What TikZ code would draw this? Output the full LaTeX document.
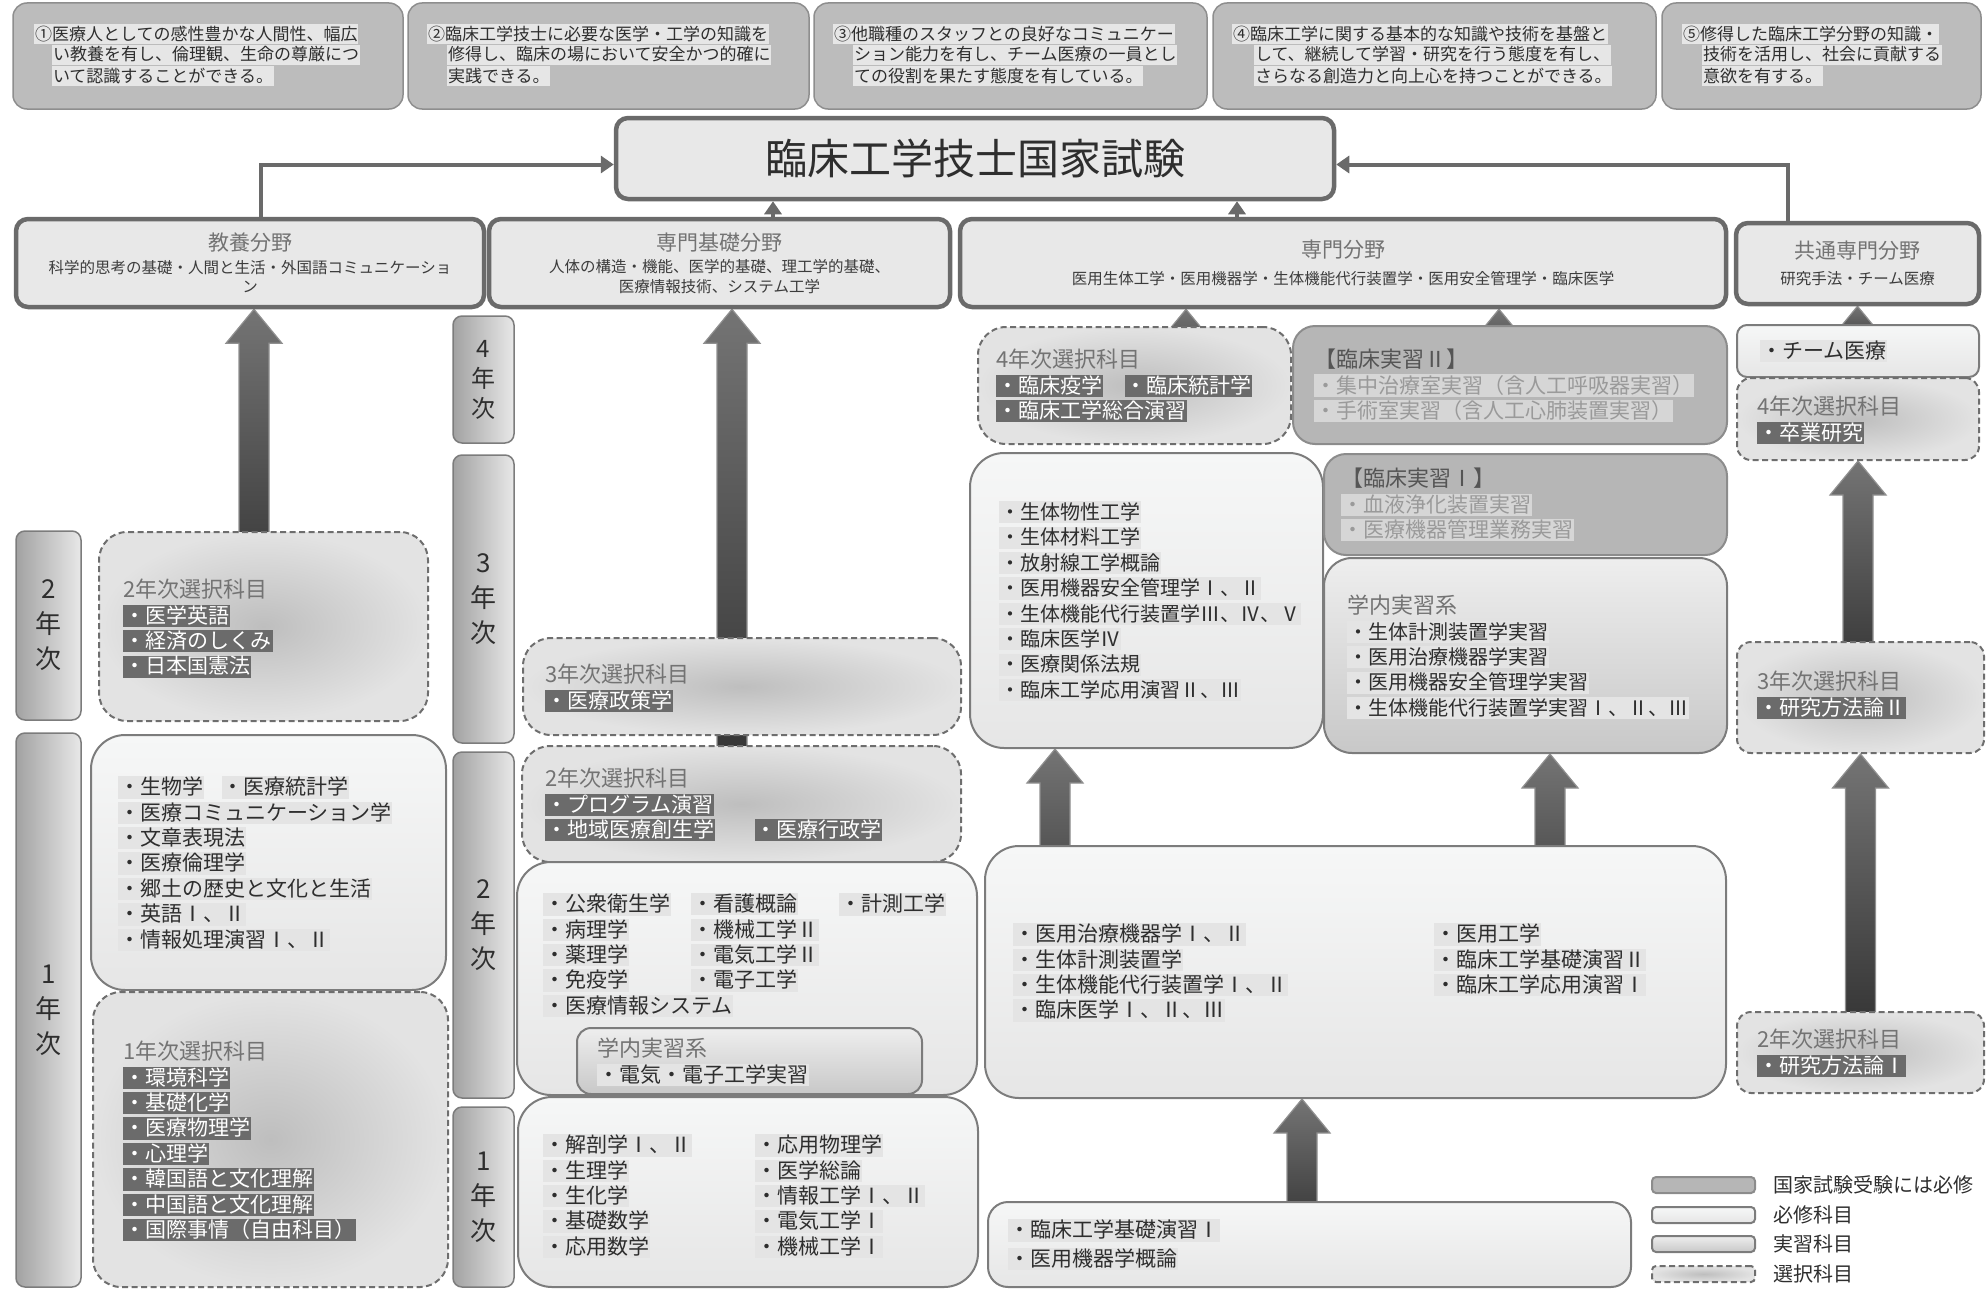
\documentclass[tikz,border=0pt]{standalone}
\usepackage{fontspec}
\setmainfont{Noto Sans CJK JP}
\usetikzlibrary{arrows.meta,calc,backgrounds}

\definecolor{goalfill}{HTML}{BCBCBC}
\definecolor{goalline}{HTML}{8E8E8E}
\definecolor{goalhl}{HTML}{E6E6E6}
\definecolor{textcol}{HTML}{2E2E2E}
\definecolor{subcol}{HTML}{3C3C3C}
\definecolor{fieldfill}{HTML}{E8E8E8}
\definecolor{fieldline}{HTML}{6A6A6A}
\definecolor{yearleft}{HTML}{A2A2A2}
\definecolor{yearright}{HTML}{E8E8E8}
\definecolor{boxline}{HTML}{7C7C7C}
\definecolor{reqtop}{HTML}{F6F7F7}
\definecolor{reqbottom}{HTML}{E6E6E6}
\definecolor{reqhl}{HTML}{E4E4E4}
\definecolor{selline}{HTML}{6E6E6E}
\definecolor{selin}{HTML}{BEBEBE}
\definecolor{selout}{HTML}{E3E3E3}
\definecolor{selhl}{HTML}{6B6B6B}
\definecolor{labtop}{HTML}{EEEEEE}
\definecolor{labbottom}{HTML}{C8C8C8}
\definecolor{clinfill}{HTML}{B6B6B6}
\definecolor{clinline}{HTML}{8C8C8C}
\definecolor{clinhl}{HTML}{D6D6D6}
\definecolor{clintext}{HTML}{9A9A9A}
\definecolor{clinhead}{HTML}{555555}
\definecolor{headcol}{HTML}{737373}
\definecolor{arrtop}{HTML}{747474}
\definecolor{arrbottom}{HTML}{2F2F2F}
\definecolor{arrline}{HTML}{909090}

\setlength{\fboxsep}{0.8pt}
\newcommand{\itemfont}{\fontsize{21}{25.4}\selectfont}
\newcommand{\smallitemfont}{\fontsize{20}{25.4}\selectfont}
\newcommand{\itemstrut}{\rule[-3pt]{0pt}{20.5pt}}
\newcommand{\reqitem}[1]{\colorbox{reqhl}{\itemstrut・#1}}
\newcommand{\selitem}[1]{\colorbox{selhl}{\itemstrut\textcolor{white}{・#1}}}
\newcommand{\jisitem}[1]{\colorbox{clinhl}{\itemstrut\textcolor{clintext}{・#1}}}
\newcommand{\headtext}[2][headcol]{{\fontsize{22}{25.4}\selectfont\color{#1}#2}}
\newcommand{\fieldtitle}[1]{{\fontsize{21}{22}\selectfont\color{headcol}#1}}
\newcommand{\goalline}[1]{\colorbox{goalhl}{\rule[-3pt]{0pt}{18pt}#1}}

\newcommand{\boxnode}[7]{%
  \pgfmathsetmacro{\bxw}{#5-#3}%
  \pgfmathsetmacro{\bxh}{#6-#4}%
  \node[#1, minimum width=\bxw pt, minimum height=\bxh pt, inner sep=0pt]
    (#2) at ({(#3+#5)/2},{(#4+#6)/2}) {#7};}

\newcommand{\fatarrow}[2]{%
  \path[fatarrow] let \p1=#1, \p2=#2 in
    (\x2-15pt,\y1) -- (\x2-15pt,\y2-34pt) -- (\x2-28pt,\y2-34pt) -- (\x2,\y2)
    -- (\x2+28pt,\y2-34pt) -- (\x2+15pt,\y2-34pt) -- (\x2+15pt,\y1) -- cycle;}

\begin{document}
\begin{tikzpicture}[x=1pt,y=-1pt,
  goalbox/.style={draw=goalline, line width=1.5pt, fill=goalfill, rounded corners=14pt},
  titlebox/.style={draw=fieldline, line width=4.5pt, fill=fieldfill, rounded corners=12pt, text=textcol, font=\fontsize{42}{48}\selectfont},
  fieldbox/.style={draw=fieldline, line width=4.5pt, fill=fieldfill, rounded corners=12pt, align=center, text=subcol, font=\fontsize{15.5}{19.5}\selectfont},
  yearbox/.style={draw=boxline, line width=1.5pt, left color=yearleft, right color=yearright, rounded corners=9pt, align=center, text=textcol, font=\fontsize{26}{35}\selectfont},
  reqbox/.style={draw=boxline, line width=2pt, top color=reqtop, bottom color=reqbottom, rounded corners=34pt},
  selbox/.style={draw=selline, line width=2pt, dash pattern=on 6pt off 3.5pt, inner color=selin, outer color=selout, rounded corners=28pt},
  labbox/.style={draw=boxline, line width=2pt, top color=labtop, bottom color=labbottom, rounded corners=28pt},
  clinbox/.style={draw=clinline, line width=2pt, fill=clinfill, rounded corners=22pt},
  itemlist/.style={anchor=north west, inner sep=0pt, align=left, font=\itemfont, text=textcol},
  goaltext/.style={anchor=north west, inner sep=0pt, align=left, font=\fontsize{17}{21}\selectfont, text=textcol},
  link/.style={draw=fieldline, line width=4pt, -{Triangle[width=17pt,length=13pt]}},
  fatarrow/.style={draw=arrline, line width=1.2pt, top color=arrtop, bottom color=arrbottom},
  keytext/.style={anchor=west, inner sep=0pt, font=\fontsize{20}{24}\selectfont, text=textcol}]

  \useasboundingbox (0,0) rectangle (1988,1290);

  \boxnode{goalbox}{goal1}{13}{3}{403}{109}{}
  \boxnode{goalbox}{goal2}{408}{3}{809}{109}{}
  \boxnode{goalbox}{goal3}{814}{3}{1207}{109}{}
  \boxnode{goalbox}{goal4}{1213}{3}{1656}{109}{}
  \boxnode{goalbox}{goal5}{1662}{3}{1981}{109}{}
  \node[goaltext] (goal1text) at (34,24) {\goalline{①医療人としての感性豊かな人間性、幅広}\\ \hspace*{18pt}\goalline{い教養を有し、倫理観、生命の尊厳につ}\\ \hspace*{18pt}\goalline{いて認識することができる。}};
  \node[goaltext] (goal2text) at (427,24) {\goalline{②臨床工学技士に必要な医学・工学の知識を}\\ \hspace*{20pt}\goalline{修得し、臨床の場において安全かつ的確に}\\ \hspace*{20pt}\goalline{実践できる。}};
  \node[goaltext] (goal3text) at (833,24) {\goalline{③他職種のスタッフとの良好なコミュニケー}\\ \hspace*{20pt}\goalline{ション能力を有し、チーム医療の一員とし}\\ \hspace*{20pt}\goalline{ての役割を果たす態度を有している。}};
  \node[goaltext] (goal4text) at (1232,24) {\goalline{④臨床工学に関する基本的な知識や技術を基盤と}\\ \hspace*{22pt}\goalline{して、継続して学習・研究を行う態度を有し、}\\ \hspace*{22pt}\goalline{さらなる創造力と向上心を持つことができる。}};
  \node[goaltext] (goal5text) at (1682,24) {\goalline{⑤修得した臨床工学分野の知識・}\\ \hspace*{20pt}\goalline{技術を活用し、社会に貢献する}\\ \hspace*{20pt}\goalline{意欲を有する。}};

  \boxnode{titlebox}{title}{616}{118}{1334}{199}{臨床工学技士国家試験}
  \boxnode{fieldbox}{kyoyo}{16}{219}{484}{307}{\fieldtitle{教養分野}\\[3pt]科学的思考の基礎・人間と生活・外国語コミュニケーショ\\ン}
  \boxnode{fieldbox}{senki}{489}{219}{950}{307}{\fieldtitle{専門基礎分野}\\[3pt]人体の構造・機能、医学的基礎、理工学的基礎、\\医療情報技術、システム工学}
  \boxnode{fieldbox}{senmon}{960}{219}{1726}{307}{\fieldtitle{専門分野}\\[7pt]医用生体工学・医用機器学・生体機能代行装置学・医用安全管理学・臨床医学}
  \boxnode{fieldbox}{kyotsu}{1736}{223}{1979}{304}{\fieldtitle{共通専門分野}\\[7pt]研究手法・チーム医療}

  \coordinate (kyoyotop) at ([xshift=11pt]kyoyo.north);
  \coordinate (kyotsutop) at ([xshift=-70pt]kyotsu.north);
  \coordinate (senkitop) at ([xshift=53.5pt]senki.north);
  \coordinate (senmontop) at ([xshift=-106pt]senmon.north);
  \draw[link] (kyoyotop) |- ([yshift=-6pt]title.west);
  \draw[link] (kyotsutop) |- ([yshift=-6pt]title.east);
  \draw[link] (senkitop) -- (senkitop |- title.south);
  \draw[link] (senmontop) -- (senmontop |- title.south);

  \boxnode{yearbox}{yearL2}{16}{531}{81}{720}{2\\年\\次}
  \boxnode{yearbox}{yearL1}{16}{733}{81}{1287}{1\\年\\次}
  \boxnode{yearbox, font=\fontsize{24}{30}\selectfont}{yearM4}{453}{316}{514}{443}{4\\年\\次}
  \boxnode{yearbox}{yearM3}{453}{455}{514}{743}{3\\年\\次}
  \boxnode{yearbox}{yearM2}{453}{752}{514}{1098}{2\\年\\次}
  \boxnode{yearbox}{yearM1}{453}{1107}{514}{1287}{1\\年\\次}

  \boxnode{selbox}{selL2}{99}{532}{428}{721}{}
  \boxnode{reqbox}{reqL1}{91}{735}{446}{990}{}
  \boxnode{selbox}{selL1}{93}{992}{448}{1287}{}
  \node[itemlist] (selL2list) at (123,579) {\headtext{2年次選択科目}\\ \selitem{医学英語}\\ \selitem{経済のしくみ}\\ \selitem{日本国憲法}};
  \node[itemlist] (reqL1list) at (118,776) {\reqitem{生物学}\hspace{18pt}\reqitem{医療統計学}\\ \reqitem{医療コミュニケーション学}\\ \reqitem{文章表現法}\\ \reqitem{医療倫理学}\\ \reqitem{郷土の歴史と文化と生活}\\ \reqitem{英語Ⅰ、Ⅱ}\\ \reqitem{情報処理演習Ⅰ、Ⅱ}};
  \node[itemlist] (selL1list) at (123,1041) {\headtext{1年次選択科目}\\ \selitem{環境科学}\\ \selitem{基礎化学}\\ \selitem{医療物理学}\\ \selitem{心理学}\\ \selitem{韓国語と文化理解}\\ \selitem{中国語と文化理解}\\ \selitem{国際事情（自由科目）}};

  \boxnode{selbox}{selM2}{522}{746}{961}{862}{}
  \boxnode{selbox}{selM3}{523}{638}{961}{735}{}
  \boxnode{reqbox}{reqM2}{517}{862}{977}{1095}{}
  \boxnode{labbox, rounded corners=14pt}{labM2}{577}{1028}{922}{1094}{}
  \boxnode{reqbox}{reqM1}{518}{1097}{978}{1287}{}
  \node[itemlist] (selM3list) at (545,664) {\headtext{3年次選択科目}\\ \selitem{医療政策学}};
  \node[itemlist] (selM2list) at (545,768) {\headtext{2年次選択科目}\\ \selitem{プログラム演習}\\ \selitem{地域医療創生学}\hspace{40pt}\selitem{医療行政学}};
  \node[itemlist] (reqM2a) at (543,893) {\reqitem{公衆衛生学}\\ \reqitem{病理学}\\ \reqitem{薬理学}\\ \reqitem{免疫学}\\ \reqitem{医療情報システム}};
  \node[itemlist] (reqM2b) at (691,893) {\reqitem{看護概論}\\ \reqitem{機械工学Ⅱ}\\ \reqitem{電気工学Ⅱ}\\ \reqitem{電子工学}};
  \node[itemlist] (reqM2c) at (839,893) {\reqitem{計測工学}};
  \node[itemlist] (labM2list) at (597,1038) {\headtext{学内実習系}\\ \reqitem{電気・電子工学実習}};
  \node[itemlist] (reqM1a) at (543,1134) {\reqitem{解剖学Ⅰ、Ⅱ}\\ \reqitem{生理学}\\ \reqitem{生化学}\\ \reqitem{基礎数学}\\ \reqitem{応用数学}};
  \node[itemlist] (reqM1b) at (755,1134) {\reqitem{応用物理学}\\ \reqitem{医学総論}\\ \reqitem{情報工学Ⅰ、Ⅱ}\\ \reqitem{電気工学Ⅰ}\\ \reqitem{機械工学Ⅰ}};

  \boxnode{selbox}{selR4}{978}{327}{1291}{444}{}
  \boxnode{clinbox}{clinR2}{1293}{326}{1727}{444}{}
  \boxnode{reqbox}{reqR3}{970}{453}{1323}{748}{}
  \boxnode{clinbox}{clinR1}{1324}{454}{1727}{555}{}
  \boxnode{labbox}{labR3}{1324}{558}{1727}{753}{}
  \boxnode{reqbox}{reqR2}{985}{846}{1726}{1098}{}
  \boxnode{reqbox, rounded corners=20pt}{reqR1}{988}{1202}{1631}{1287}{}
  \node[itemlist] (selR4list) at (996,349) {\headtext{4年次選択科目}\\ \selitem{臨床疫学}\hspace{22pt}\selitem{臨床統計学}\\ \selitem{臨床工学総合演習}};
  \node[itemlist] (clinR2list) at (1314,349) {\headtext[clinhead]{【臨床実習Ⅱ】}\\ \jisitem{集中治療室実習（含人工呼吸器実習）}\\ \jisitem{手術室実習（含人工心肺装置実習）}};
  \node[itemlist, font=\smallitemfont] (reqR3list) at (999,501) {\reqitem{生体物性工学}\\ \reqitem{生体材料工学}\\ \reqitem{放射線工学概論}\\ \reqitem{医用機器安全管理学Ⅰ、Ⅱ}\\ \reqitem{生体機能代行装置学Ⅲ、Ⅳ、Ⅴ}\\ \reqitem{臨床医学Ⅳ}\\ \reqitem{医療関係法規}\\ \reqitem{臨床工学応用演習Ⅱ、Ⅲ}};
  \node[itemlist] (clinR1list) at (1341,468) {\headtext[clinhead]{【臨床実習Ⅰ】}\\ \jisitem{血液浄化装置実習}\\ \jisitem{医療機器管理業務実習}};
  \node[itemlist, font=\smallitemfont] (labR3list) at (1347,595) {\headtext{学内実習系}\\ \reqitem{生体計測装置学実習}\\ \reqitem{医用治療機器学実習}\\ \reqitem{医用機器安全管理学実習}\\ \reqitem{生体機能代行装置学実習Ⅰ、Ⅱ、Ⅲ}};
  \node[itemlist] (reqR2a) at (1013,923) {\reqitem{医用治療機器学Ⅰ、Ⅱ}\\ \reqitem{生体計測装置学}\\ \reqitem{生体機能代行装置学Ⅰ、Ⅱ}\\ \reqitem{臨床医学Ⅰ、Ⅱ、Ⅲ}};
  \node[itemlist] (reqR2b) at (1434,923) {\reqitem{医用工学}\\ \reqitem{臨床工学基礎演習Ⅱ}\\ \reqitem{臨床工学応用演習Ⅰ}};
  \node[itemlist] (reqR1list) at (1008,1219) {\reqitem{臨床工学基礎演習Ⅰ}\\[3.5pt] \reqitem{医用機器学概論}};

  \boxnode{reqbox, rounded corners=10pt}{reqK4}{1737}{325}{1979}{377}{}
  \boxnode{selbox, rounded corners=14pt}{selK4}{1737}{378}{1979}{460}{}
  \boxnode{selbox, rounded corners=14pt}{selK3}{1737}{642}{1984}{753}{}
  \boxnode{selbox, rounded corners=14pt}{selK2}{1737}{1012}{1984}{1093}{}
  \node[itemlist] (reqK4list) at (1760,340) {\reqitem{チーム医療}};
  \node[itemlist] (selK4list) at (1757,396) {\headtext{4年次選択科目}\\ \selitem{卒業研究}};
  \node[itemlist] (selK3list) at (1757,671) {\headtext{3年次選択科目}\\ \selitem{研究方法論Ⅱ}};
  \node[itemlist] (selK2list) at (1757,1029) {\headtext{2年次選択科目}\\ \selitem{研究方法論Ⅰ}};

  \begin{scope}[on background layer]
    \fatarrow{(selL2.center)}{([xshift=4pt]kyoyo.south)}
    \fatarrow{(selM2.center)}{([xshift=12.5pt]senki.south)}
    \fatarrow{(selR4.center)}{([xshift=-157pt]senmon.south)}
    \fatarrow{(clinR2.center)}{([xshift=156pt]senmon.south)}
    \fatarrow{(reqR2.center)}{([xshift=-91.5pt]reqR3.south)}
    \fatarrow{(reqR2.center)}{([xshift=24.5pt]labR3.south)}
    \fatarrow{(reqR1.center)}{([xshift=-53.5pt]reqR2.south)}
    \fatarrow{(reqK4.center)}{(kyotsu.south)}
    \fatarrow{(selK3.center)}{(selK4.south)}
    \fatarrow{(selK2.center)}{(selK3.south)}
  \end{scope}

  \boxnode{clinbox, rounded corners=4pt}{key1}{1652}{1177}{1755}{1193}{}
  \boxnode{reqbox, rounded corners=4pt}{key2}{1652}{1207}{1755}{1223}{}
  \boxnode{labbox, rounded corners=4pt}{key3}{1652}{1236}{1755}{1252}{}
  \boxnode{selbox, rounded corners=4pt}{key4}{1652}{1266}{1755}{1282}{}
  \node[keytext] (key1text) at (1773,1185) {国家試験受験には必修};
  \node[keytext] (key2text) at (1773,1215) {必修科目};
  \node[keytext] (key3text) at (1773,1244) {実習科目};
  \node[keytext] (key4text) at (1773,1274) {選択科目};
\end{tikzpicture}
\end{document}
